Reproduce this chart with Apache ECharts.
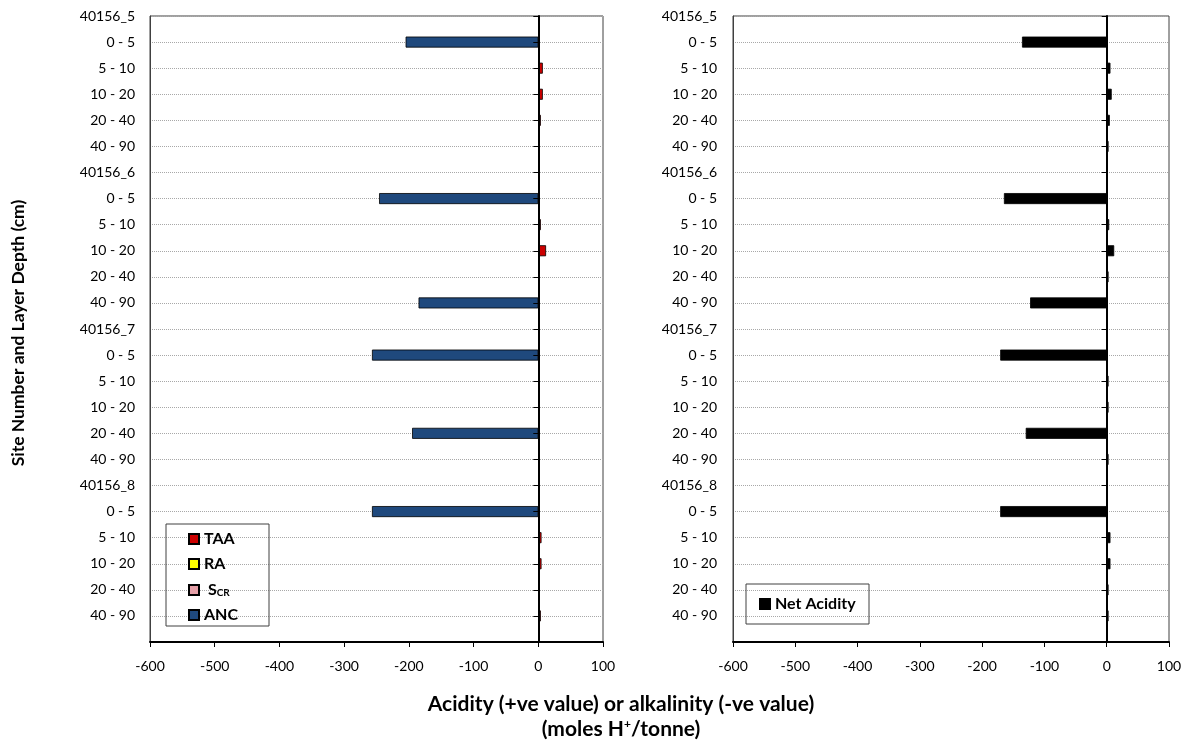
<!DOCTYPE html>
<html><head><meta charset="utf-8">
<script src="https://cdn.jsdelivr.net/npm/echarts@6/dist/echarts.min.js"></script>
<style>html,body{margin:0;padding:0;background:#fff}#c{width:1192px;height:746px}</style>
</head><body><div id="c"></div>
<script>
// Category labels (site number + layer depth); last '' is an empty slot below the final row
const categories = ['40156_5','0 - 5','5 - 10','10 - 20','20 - 40','40 - 90',
  '40156_6','0 - 5','5 - 10','10 - 20','20 - 40','40 - 90',
  '40156_7','0 - 5','5 - 10','10 - 20','20 - 40','40 - 90',
  '40156_8','0 - 5','5 - 10','10 - 20','20 - 40','40 - 90',''];
// Left panel series (moles H+/tonne)
const taa = [null,null,7,7,4,2, null,null,4,12,2,null, null,null,2,2,null,2, null,null,5,5,2,4];
const ra  = [null,null,null,null,null,null, null,null,null,null,null,null, null,null,null,null,null,null, null,null,null,null,null,null];
const scr = [null,null,null,null,null,null, null,null,null,null,null,null, null,null,null,null,null,null, null,null,null,null,null,null];
const anc = [null,-205,null,null,null,null, null,-246,null,null,null,-185, null,-257,null,null,-195,null, null,-257,null,null,null,null];
// Right panel series
const netAcidity = [null,-136,6,8,5,3, null,-165,4,12,3,-123, null,-171,3,3,-130,3, null,-171,6,6,3,3];
// Value axis range
const xMin = -600, xMax = 100, xStep = 100;

const FONT = 'Lato, "Open Sans", sans-serif';
const chart = echarts.init(document.getElementById('c'));

function valueAxis(gi) {
  return {
    type: 'value', gridIndex: gi, min: xMin, max: xMax, interval: xStep,
    axisLine: { show: true, onZero: false, lineStyle: { color: '#000', width: 2 } },
    axisTick: { show: true, length: 5, lineStyle: { color: '#000' } },
    axisLabel: { color: '#000', fontFamily: FONT, fontSize: 14, margin: 17 },
    splitLine: { show: false }
  };
}
function labelAxis(gi, margin) {
  return {
    type: 'category', gridIndex: gi, data: categories, inverse: true, boundaryGap: false,
    axisLine: { show: true, onZero: false, lineStyle: { color: '#404040', width: 1 } },
    axisTick: { show: false },
    axisLabel: { color: '#000', fontFamily: FONT, fontSize: 14, margin: margin, interval: 0 },
    splitLine: { show: true, lineStyle: { color: '#a8a8a8', type: 'dotted', width: 1 } }
  };
}
function zeroAxis(gi) {
  return {
    type: 'category', gridIndex: gi, data: categories, inverse: true, boundaryGap: false,
    position: 'right', z: 5,
    axisLine: { show: true, onZero: true, lineStyle: { color: '#000', width: 2 } },
    axisTick: { show: true, inside: true, length: 5, interval: 0, lineStyle: { color: '#000' } },
    axisLabel: { show: false },
    splitLine: { show: false }
  };
}
function barSeries(name, data, color, xi, yi) {
  return {
    name: name, type: 'bar', data: data, xAxisIndex: xi, yAxisIndex: yi,
    stack: 'p' + xi, barWidth: 11,
    itemStyle: { color: color, borderColor: '#000', borderWidth: 0.8 }
  };
}

chart.setOption({
  animation: false,
  backgroundColor: '#fff',
  textStyle: { fontFamily: FONT },
  grid: [
    { left: 150, right: 589, top: 16, bottom: 104, show: true, borderColor: '#404040', borderWidth: 1 },
    { left: 733, right: 23, top: 16, bottom: 104, show: true, borderColor: '#404040', borderWidth: 1 }
  ],
  xAxis: [valueAxis(0), valueAxis(1)],
  yAxis: [labelAxis(0, 15), zeroAxis(0), labelAxis(1, 16), zeroAxis(1)],
  legend: [
    {
      data: ['TAA', 'RA', 'SCR', 'ANC'], orient: 'vertical', left: 183, top: 526,
      icon: 'rect', itemWidth: 10, itemHeight: 10, itemGap: 9,
      textStyle: {
        fontFamily: FONT, fontSize: 16, fontWeight: 'bold', color: '#000', lineHeight: 16,
        rich: {
          b: { fontFamily: FONT, fontSize: 16, fontWeight: 'bold', color: '#000', lineHeight: 16 },
          s: { fontFamily: FONT, fontSize: 10, fontWeight: 'bold', color: '#000', lineHeight: 16, verticalAlign: 'bottom', padding: [7, 0, 0, 0] }
        }
      },
      formatter: function (n) { return n === 'SCR' ? ' {b|S}{s|CR}' : '{b|' + n + '}'; }
    },
    {
      data: ['Net Acidity'], orient: 'vertical', left: 754, top: 591,
      icon: 'rect', itemWidth: 10, itemHeight: 10,
      textStyle: { fontFamily: FONT, fontSize: 16, fontWeight: 'bold', color: '#000', lineHeight: 16 }
    }
  ],
  graphic: [
    { type: 'rect', shape: { x: 166, y: 524, width: 103, height: 102 }, style: { fill: 'none', stroke: '#404040', lineWidth: 1 }, z: 10 },
    { type: 'rect', shape: { x: 746, y: 584, width: 123, height: 40 }, style: { fill: 'none', stroke: '#404040', lineWidth: 1 }, z: 10 },
    { type: 'text', x: 18, y: 333, rotation: Math.PI / 2,
      style: { text: 'Site Number and Layer Depth (cm)', fontFamily: FONT, fontSize: 17.5, fontWeight: 'bold', fill: '#000', align: 'center', verticalAlign: 'middle' } },
    { type: 'text', x: 621, y: 704,
      style: { text: 'Acidity (+ve value) or alkalinity (-ve value)', fontFamily: FONT, fontSize: 21, fontWeight: 'bold', fill: '#000', align: 'center', verticalAlign: 'middle' } },
    { type: 'text', x: 621, y: 729,
      style: { text: '{b|(moles H}{p|+}{b|/tonne)}', align: 'center', verticalAlign: 'middle',
        rich: {
          b: { fontFamily: FONT, fontSize: 21, fontWeight: 'bold', fill: '#000', lineHeight: 22 },
          p: { fontFamily: FONT, fontSize: 12, fontWeight: 'bold', fill: '#000', lineHeight: 22, padding: [0, 0, 9, 0] }
        } } }
  ],
  series: [
    barSeries('TAA', taa, '#CC0000', 0, 0),
    barSeries('RA', ra, '#FFFF00', 0, 0),
    barSeries('SCR', scr, '#E6A0A8', 0, 0),
    barSeries('ANC', anc, '#1F497D', 0, 0),
    barSeries('Net Acidity', netAcidity, '#000000', 1, 2)
  ]
});
</script></body></html>
